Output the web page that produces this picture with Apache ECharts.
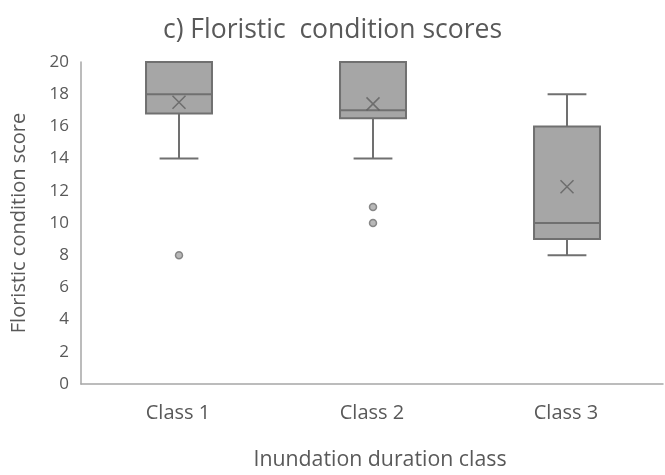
<!DOCTYPE html>
<html><head><meta charset="utf-8">
<script src="https://cdn.jsdelivr.net/npm/echarts@6/dist/echarts.min.js"></script>
<style>html,body{margin:0;padding:0;background:#fff}#c{width:665px;height:475px}</style>
</head><body><div id="c"></div>
<script>
var categories = ['Class 1', 'Class 2', 'Class 3'];
// [min, Q1, median, Q3, max]
var boxStats = [
  [14, 16.8, 18, 20, 20],
  [14, 16.5, 17, 20, 20],
  [8, 9, 10, 16, 18]
];
var means = [17.5, 17.4, 12.25];
var outliers = [[0, 8], [1, 11], [1, 10]];
var yTicks = [0, 20, 2];

var FONT = '"Open Sans", "Noto Sans", sans-serif';
var TXT = '#595959';
var FILL = '#a6a6a6';
var EDGE = '#707070';

var chart = echarts.init(document.getElementById('c'), null, {renderer: 'canvas'});
var boxData = boxStats.map(function (s, i) { return [i].concat(s); });

chart.setOption({
  animation: false,
  title: {
    text: 'c) Floristic  condition scores', left: 'center', top: 12,
    padding: [5, 5, 5, 13],
    textStyle: {fontFamily: FONT, fontSize: 26.5, fontWeight: 'normal', color: TXT}
  },
  grid: {left: 81, right: 2, top: 62, bottom: 87, containLabel: false},
  xAxis: {
    type: 'category', data: categories, boundaryGap: true,
    name: 'Inundation duration class', nameLocation: 'middle', nameGap: 65,
    nameTextStyle: {fontFamily: FONT, fontSize: 21.3, color: TXT, padding: [0, 0, 0, 16]},
    axisLine: {lineStyle: {color: '#a6a6a6', width: 1.5}},
    axisTick: {show: false},
    axisLabel: {fontFamily: FONT, fontSize: 20, color: TXT, margin: 19}
  },
  yAxis: {
    type: 'value', min: yTicks[0], max: yTicks[1], interval: yTicks[2],
    name: 'Floristic condition score', nameLocation: 'middle', nameGap: 52,
    nameTextStyle: {fontFamily: FONT, fontSize: 20, color: TXT},
    axisLine: {show: true, lineStyle: {color: '#a6a6a6', width: 1.5}},
    axisTick: {show: false},
    splitLine: {show: false},
    axisLabel: {fontFamily: FONT, fontSize: 17, color: TXT, margin: 12}
  },
  series: [
    {
      type: 'custom',
      data: boxData,
      encode: {x: 0, y: [1, 2, 3, 4, 5]},
      renderItem: function (params, api) {
        var idx = api.value(0);
        var mn = api.coord([idx, api.value(1)]);
        var q1 = api.coord([idx, api.value(2)]);
        var md = api.coord([idx, api.value(3)]);
        var q3 = api.coord([idx, api.value(4)]);
        var mx = api.coord([idx, api.value(5)]);
        var band = api.size([1, 0])[0];
        var w = band * 0.34;
        var cap = band * 0.1;
        var cx = mn[0] + 1;
        var ls = {stroke: EDGE, lineWidth: 2, fill: null};
        var children = [
          {type: 'line', shape: {x1: cx, y1: mx[1], x2: cx, y2: q3[1]}, style: ls},
          {type: 'line', shape: {x1: cx, y1: q1[1], x2: cx, y2: mn[1]}, style: ls},
          {type: 'line', shape: {x1: cx - cap, y1: mn[1], x2: cx + cap, y2: mn[1]}, style: ls},
          {type: 'rect', shape: {x: cx - w / 2, y: q3[1], width: w, height: q1[1] - q3[1]},
            style: {fill: FILL, stroke: EDGE, lineWidth: 2}},
          {type: 'line', shape: {x1: cx - w / 2, y1: md[1], x2: cx + w / 2, y2: md[1]}, style: ls},
          {type: 'line', shape: {x1: cx - cap, y1: mx[1], x2: cx + cap, y2: mx[1]}, style: ls}
        ];
        return {type: 'group', children: children};
      },
      z: 2
    },
    {
      type: 'scatter',
      data: means.map(function (m, i) { return [i, m]; }),
      symbol: 'path://M0,0L10,10M10,0L0,10',
      symbolSize: 13,
      symbolOffset: [1, 0],
      itemStyle: {color: 'none', borderColor: '#5f5f5f', borderWidth: 1.5},
      z: 5
    },
    {
      type: 'scatter',
      data: outliers,
      symbol: 'circle',
      symbolSize: 7,
      symbolOffset: [1, 0],
      itemStyle: {color: FILL, borderColor: EDGE, borderWidth: 1.5},
      z: 5
    }
  ]
});
</script>
</body></html>
